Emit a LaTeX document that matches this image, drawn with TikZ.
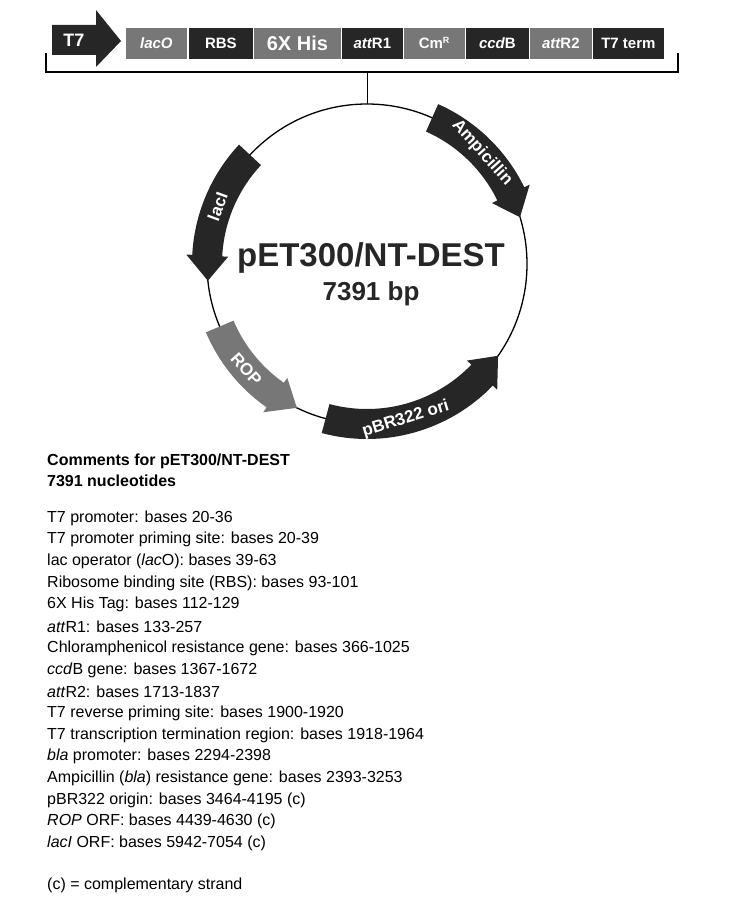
\documentclass[tikz,border=0pt]{standalone}
\usepackage{fontspec}
\setmainfont{Liberation Sans}
\usepackage{tikz}
\usetikzlibrary{calc}
\definecolor{darkbox}{HTML}{262626}
\definecolor{greybox}{HTML}{777777}
\tikzset{
  seg/.style={draw=white,line width=0.8pt,minimum height=32pt,inner sep=0pt,anchor=west,text=white,font=\fontsize{15}{15}\selectfont\bfseries},
  arclabel/.style={text=white,font=\fontsize{17}{17}\selectfont\bfseries},
  listline/.style={anchor=west,inner sep=0pt,font=\fontsize{16}{16}\selectfont}
}
% arc feature: start angle, end angle, head angle, colour, name
\newcommand{\featarc}[5]{%
  \pgfmathsetmacro{\headbase}{#2-#3}
  \fill[#4] (#1:175) arc[start angle=#1,end angle=\headbase,radius=175]
    -- (\headbase:181) -- (#2:160) -- (\headbase:139)
    -- (\headbase:145) arc[start angle=\headbase,end angle=#1,radius=145] -- cycle;
}
\begin{document}
\begin{tikzpicture}[x=1pt,y=1pt]
\useasboundingbox (0,-899) rectangle (733,0);

% cassette
\fill[darkbox] (52,-25) -- (96,-25) -- (96,-10) -- (121,-41) -- (96,-67) -- (96,-55) -- (52,-55) -- cycle;
\node[text=white,font=\fontsize{18}{18}\selectfont\bfseries] (t7) at (74,-40) {T7};
\node[seg,fill=greybox,minimum width=62pt] (laco) at (125,-43) {\itshape lacO};
\node[seg,fill=darkbox,minimum width=65pt] (rbs) at (188,-43) {RBS};
\node[seg,fill=greybox,minimum width=88pt,font=\fontsize{20}{20}\selectfont\bfseries] (his) at (253,-43) {6X His};
\node[seg,fill=darkbox,minimum width=62pt] (attra) at (341,-43) {\itshape att\upshape R1};
\node[seg,fill=greybox,minimum width=62pt] (cm) at (403,-43) {Cm\textsuperscript{\fontsize{9}{9}\selectfont R}};
\node[seg,fill=darkbox,minimum width=64pt] (ccdb) at (465,-43) {\itshape ccd\upshape B};
\node[seg,fill=greybox,minimum width=63pt] (attrb) at (529,-43) {\itshape att\upshape R2};
\node[seg,fill=darkbox,minimum width=72pt] (term) at (592,-43) {T7 term};

% bracket
\coordinate (bl) at (46,-53);
\coordinate (br) at (678,-53);
\coordinate (stem) at (367,-72);
\coordinate (ctop) at (367,-104);
\draw[line width=1.3pt] (bl) -- ++(0,-19) -- ($(br)+(0,-19)$) -- (br);
\draw[line width=0.8pt] (stem) -- (ctop);

% plasmid
\begin{scope}[shift={(367,-264)}]
\draw[line width=1.3pt] (0,0) circle[radius=160];
\featarc{66}{17}{-9}{darkbox}{amp}
\featarc{137}{186}{9}{darkbox}{laci}
\featarc{203}{244}{9}{greybox}{rop}
\featarc{255}{325}{9}{darkbox}{ori}
\node[arclabel,rotate=-48] (amp) at (44:160) {Ampicillin};
\node[arclabel,rotate=70] (laci) at (159:160) {lacI};
\node[arclabel,rotate=-48] (rop) at (221:160) {ROP};
\node[arclabel,rotate=17] (ori) at (284:160) {pBR322 ori};
\node[font=\fontsize{33}{33}\selectfont\bfseries,text=darkbox] (name) at (4,6) {pET300/NT-DEST};
\node[font=\fontsize{26}{26}\selectfont\bfseries,text=darkbox] (size) at (4,-30) {7391 bp};
\end{scope}

% comments
\node[listline,font=\fontsize{16}{16}\selectfont\bfseries] (c1) at (47,-461) {Comments for pET300/NT-DEST};
\node[listline,font=\fontsize{16}{16}\selectfont\bfseries] (c2) at (47,-481) {7391 nucleotides};
\foreach \txt [count=\i] in {
  T7 promoter: bases 20-36,
  T7 promoter priming site: bases 20-39,
  lac operator (\textit{lac}O): bases 39-63,
  Ribosome binding site (RBS): bases 93-101,
  6X His Tag: bases 112-129,
  \textit{att}R1: bases 133-257,
  Chloramphenicol resistance gene: bases 366-1025,
  \textit{ccd}B gene: bases 1367-1672,
  \textit{att}R2: bases 1713-1837,
  T7 reverse priming site: bases 1900-1920,
  T7 transcription termination region: bases 1918-1964,
  \textit{bla} promoter: bases 2294-2398,
  Ampicillin (\textit{bla}) resistance gene: bases 2393-3253,
  pBR322 origin: bases 3464-4195 (c),
  \textit{ROP} ORF: bases 4439-4630 (c),
  \textit{lacI} ORF: bases 5942-7054 (c)}
  \node[listline] (l\i) at (47,-518-21.7*\i+21.7) {\txt};
\node[listline] (note) at (47,-885) {(c) = complementary strand};
\end{tikzpicture}
\end{document}
